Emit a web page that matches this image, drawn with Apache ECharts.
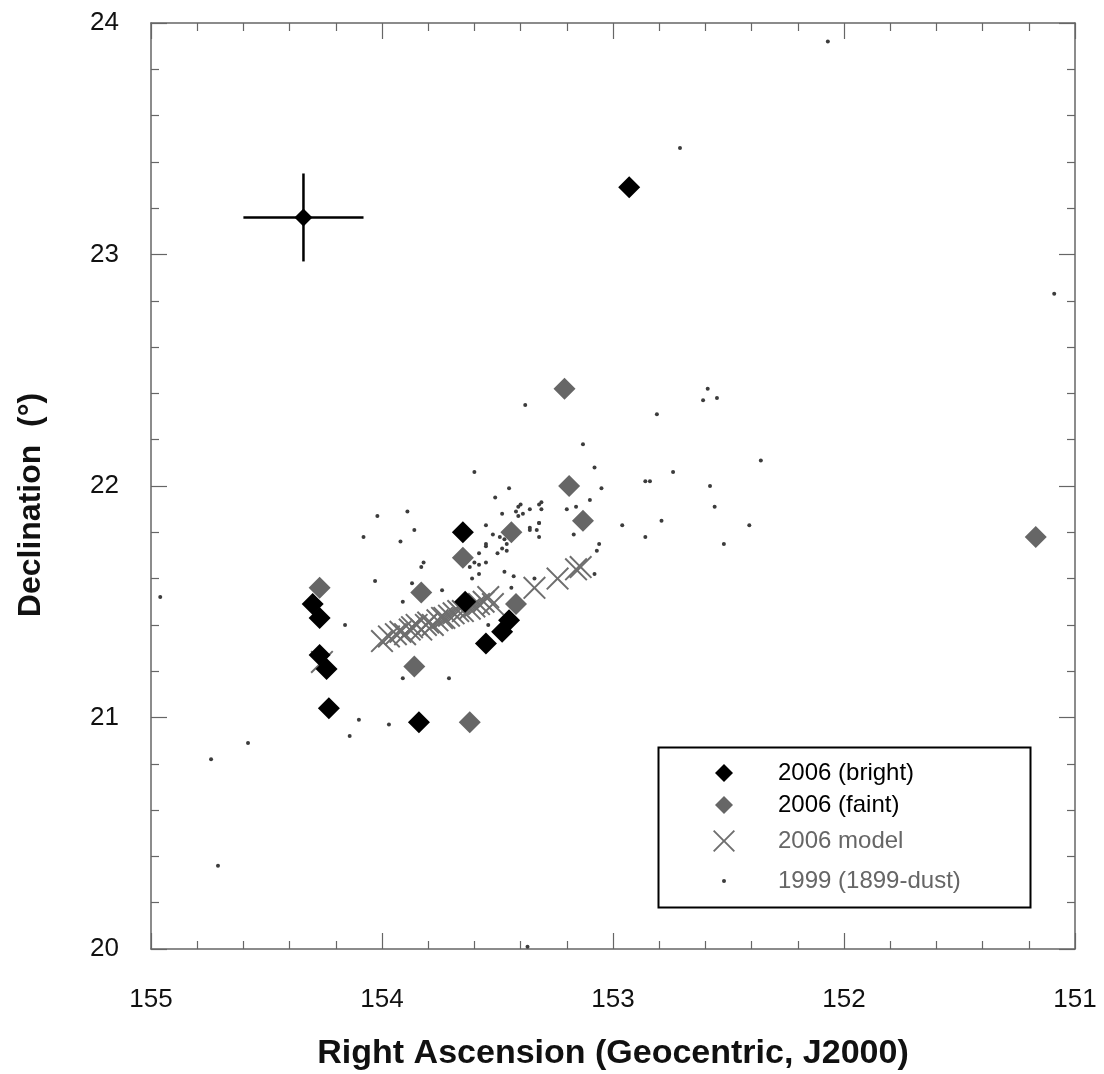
<!DOCTYPE html>
<html>
<head>
<meta charset="utf-8">
<title>Declination vs Right Ascension</title>
<script src="https://cdn.jsdelivr.net/npm/echarts@6/dist/echarts.min.js"></script>
<style>
  html, body { margin: 0; padding: 0; background: #fff; }
  #main { width: 1104px; height: 1074px; }
</style>
</head>
<body>
<div id="main"></div>
<script>
// 2006 bright meteors [RA, Dec]
var brightData = [
    [152.93, 23.29], [153.65, 21.80], [154.30, 21.49], [154.27, 21.43],
    [154.27, 21.27], [154.24, 21.21], [154.23, 21.04], [153.84, 20.98],
    [153.55, 21.32], [153.48, 21.37], [153.45, 21.42], [153.64, 21.50]
];
// 2006 faint meteors
var faintData = [
    [153.21, 22.42], [153.19, 22.00], [153.13, 21.85], [153.44, 21.80],
    [153.65, 21.69], [154.27, 21.56], [153.83, 21.54], [153.42, 21.49],
    [153.86, 21.22], [153.62, 20.98], [151.17, 21.78]
];
// 2006 model
var modelData = [
    [154.00, 21.33], [153.97, 21.35], [153.94, 21.36], [153.92, 21.37],
    [153.90, 21.36], [153.88, 21.38], [153.87, 21.39], [153.85, 21.40],
    [153.83, 21.38], [153.81, 21.40], [153.80, 21.41], [153.78, 21.40],
    [153.76, 21.42], [153.74, 21.43], [153.73, 21.43], [153.71, 21.44],
    [153.69, 21.45], [153.67, 21.46], [153.65, 21.46], [153.62, 21.47],
    [153.60, 21.48], [153.58, 21.49], [153.56, 21.50], [153.54, 21.52],
    [153.52, 21.49], [153.34, 21.56], [153.24, 21.60], [153.16, 21.64],
    [153.14, 21.65], [154.26, 21.24]
];
// 1999 (1899-dust)
var dustData = [
    [152.07, 23.92], [152.71, 23.46], [151.09, 22.83], [152.59, 22.42],
    [152.61, 22.37], [152.55, 22.38], [152.81, 22.31], [153.38, 22.35],
    [153.13, 22.18], [153.08, 22.08], [152.36, 22.11], [153.60, 22.06],
    [152.74, 22.06], [152.86, 22.02], [152.84, 22.02], [152.58, 22.00],
    [153.45, 21.99], [153.05, 21.99], [153.51, 21.95], [153.10, 21.94],
    [152.56, 21.91], [153.31, 21.93], [153.32, 21.92], [153.40, 21.92],
    [153.41, 21.91], [153.36, 21.90], [153.31, 21.90], [153.20, 21.90],
    [153.16, 21.91], [153.42, 21.89], [153.48, 21.88], [153.39, 21.88],
    [153.41, 21.87], [153.32, 21.84], [153.36, 21.82], [153.33, 21.81],
    [153.36, 21.81], [152.96, 21.83], [152.79, 21.85], [152.41, 21.83],
    [153.17, 21.79], [153.32, 21.78], [153.49, 21.78], [153.52, 21.79],
    [153.47, 21.77], [153.46, 21.75], [153.48, 21.73], [153.46, 21.72],
    [153.50, 21.71], [153.06, 21.75], [153.07, 21.72], [152.86, 21.78],
    [152.52, 21.75], [153.08, 21.62], [153.89, 21.89], [154.02, 21.87],
    [153.86, 21.81], [154.08, 21.78], [153.92, 21.76], [153.55, 21.83],
    [153.55, 21.75], [153.55, 21.74], [153.58, 21.71], [153.60, 21.67],
    [153.58, 21.66], [153.55, 21.67], [153.62, 21.65], [153.82, 21.67],
    [153.83, 21.65], [154.03, 21.59], [153.87, 21.58], [153.91, 21.50],
    [153.74, 21.55], [153.61, 21.60], [153.58, 21.62], [153.91, 21.17],
    [153.71, 21.17], [154.10, 20.99], [153.97, 20.97], [154.14, 20.92],
    [154.58, 20.89], [154.74, 20.82], [154.71, 20.36], [153.37, 20.01],
    [154.96, 21.52], [154.16, 21.40], [153.32, 21.84], [153.47, 21.63],
    [153.43, 21.61], [153.34, 21.60], [153.44, 21.56], [153.54, 21.40]
];
// typical error: [RA, Dec, RA err, Dec err]
var errorData = [[154.34, 23.16, 0.26, 0.19]];

var xTicks = [151, 155];
var yTicks = [20, 24];

var fontFam = '"Liberation Sans", Helvetica, Arial, sans-serif';
var axisGray = '#666';
var crossPath = 'path://M0,6L6,0L50,44L94,0L100,6L56,50L100,94L94,100L50,56L6,100L0,94L44,50Z';

function axisBase(pos, showLabel) {
    return {
        type: 'value',
        position: pos,
        scale: true,
        interval: 1,
        axisLine: { show: true, onZero: false, lineStyle: { color: axisGray, width: 1.5 } },
        axisTick: { show: true, inside: true, length: 16, lineStyle: { color: axisGray, width: 1.2 } },
        minorTick: { show: true, splitNumber: 5, length: 8, lineStyle: { color: axisGray, width: 1.2 } },
        splitLine: { show: false },
        axisLabel: { show: showLabel, color: '#111', fontSize: 26, fontFamily: fontFam }
    };
}

var xBottom = axisBase('bottom', true);
xBottom.min = xTicks[0]; xBottom.max = xTicks[1]; xBottom.inverse = true;
xBottom.axisLabel.margin = 38;
xBottom.name = 'Right Ascension (Geocentric, J2000)';
xBottom.nameLocation = 'middle';
xBottom.nameGap = 88;
xBottom.nameTextStyle = { fontSize: 34, fontWeight: 'bold', color: '#111', fontFamily: fontFam };
var xTop = axisBase('top', false);
xTop.min = xTicks[0]; xTop.max = xTicks[1]; xTop.inverse = true;

var yLeft = axisBase('left', true);
yLeft.min = yTicks[0]; yLeft.max = yTicks[1];
yLeft.axisLabel.margin = 32;
yLeft.name = 'Declination  (°)';
yLeft.nameLocation = 'middle';
yLeft.nameRotate = 90;
yLeft.nameGap = 104;
yLeft.nameTextStyle = { fontSize: 32, fontWeight: 'bold', color: '#111', fontFamily: fontFam, padding: [0, 38, 0, 0] };
var yRight = axisBase('right', false);
yRight.min = yTicks[0]; yRight.max = yTicks[1];

// one legend per row, icon centred at x=724, text starting at x=778
function legendRow(name, rowY, size, textColor) {
    return {
        data: [{ name: name, textStyle: { color: textColor } }],
        left: 724 - size / 2, top: rowY - 14,
        orient: 'vertical', padding: 0,
        itemWidth: size, itemHeight: size,
        selectedMode: false,
        textStyle: {
            fontSize: 24, fontFamily: fontFam, lineHeight: 28,
            padding: [0, 0, 0, 778 - (724 + size / 2) - 5]
        }
    };
}

var myChart = echarts.init(document.getElementById('main'));
var option = {
    backgroundColor: '#fff',
    animation: false,
    grid: { left: 151, right: 29, top: 23, bottom: 125, containLabel: false, outerBoundsMode: 'none' },
    xAxis: [xBottom, xTop],
    yAxis: [yLeft, yRight],
    legend: [
        legendRow('2006 (bright)', 773, 18, '#000'),
        legendRow('2006 (faint)', 805, 18, '#000'),
        legendRow('2006 model', 841, 22, '#666'),
        legendRow('1999 (1899-dust)', 881, 4, '#666')
    ],
    graphic: [{
        type: 'rect', left: 656, top: 745, z: 100,
        shape: { width: 372, height: 160 },
        style: { fill: 'none', stroke: '#000', lineWidth: 2 }
    }],
    series: [
        {
            name: '1999 (1899-dust)', type: 'scatter', data: dustData,
            symbol: 'circle', symbolSize: 4,
            itemStyle: { color: '#3c3c3c', opacity: 1 }, z: 2
        },
        {
            name: '2006 model', type: 'scatter', data: modelData,
            symbol: crossPath, symbolSize: 23,
            itemStyle: { color: '#6e6e6e', opacity: 1 }, z: 3
        },
        {
            name: '2006 (faint)', type: 'scatter', data: faintData,
            symbol: 'diamond', symbolSize: 22,
            itemStyle: { color: '#666666', opacity: 1 }, z: 4
        },
        {
            name: '2006 (bright)', type: 'scatter', data: brightData,
            symbol: 'diamond', symbolSize: 22,
            itemStyle: { color: '#000000', opacity: 1 }, z: 5
        },
        {
            name: 'error', type: 'custom', data: errorData, z: 6,
            renderItem: function (params, api) {
                var x = api.value(0), y = api.value(1);
                var ex = api.value(2), ey = api.value(3);
                var c = api.coord([x, y]);
                var l = api.coord([x + ex, y]);
                var r = api.coord([x - ex, y]);
                var t = api.coord([x, y + ey]);
                var b = api.coord([x, y - ey]);
                var s = 9;
                return {
                    type: 'group',
                    children: [
                        { type: 'polygon', shape: { points: [[c[0], c[1] - s], [c[0] + s, c[1]], [c[0], c[1] + s], [c[0] - s, c[1]]] }, style: { fill: '#000' } },
                        { type: 'line', shape: { x1: l[0], y1: l[1], x2: r[0], y2: r[1] }, style: { stroke: '#000', lineWidth: 2.5 } },
                        { type: 'line', shape: { x1: t[0], y1: t[1], x2: b[0], y2: b[1] }, style: { stroke: '#000', lineWidth: 2.5 } }
                    ]
                };
            }
        }
    ]
};
myChart.setOption(option);
</script>
</body>
</html>
